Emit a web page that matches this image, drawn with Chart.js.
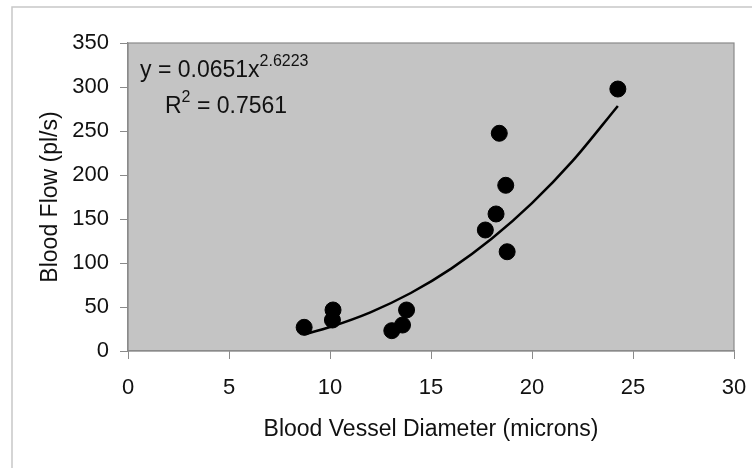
<!DOCTYPE html>
<html>
<head>
<meta charset="utf-8">
<script src="https://cdn.jsdelivr.net/npm/chart.js@4"></script>
<style>
  body { margin: 0; background: #fff; }
  canvas { display: block; }
</style>
</head>
<body>
<canvas id="flow-chart" width="752" height="468"></canvas>
<script>
// measured vessels
const diameters = [8.72, 10.12, 10.15, 13.06, 13.59, 13.79, 17.69, 18.22, 18.38, 18.70, 18.77, 24.25];
const flows = [26.9, 35.2, 46.6, 23.1, 29.5, 46.6, 137.5, 155.7, 247.4, 188.3, 112.8, 297.7];

// power trendline
const trendX = [8.72, 10, 12, 14, 16, 18, 20, 22, 24.25];
const trendY = [18.9, 27.3, 44.0, 65.9, 93.6, 127.5, 168.0, 215.7, 278.5];

const xTicks = [0, 5, 10, 15, 20, 25, 30];
const yTicks = [0, 50, 100, 150, 200, 250, 300, 350];

const FONT = "'Liberation Sans', Arial, sans-serif";

const plotBg = {
    id: 'plotBg',
    beforeDraw(chart) {
        const { ctx, chartArea: a } = chart;
        ctx.save();
        // outer frame
        ctx.strokeStyle = '#c8c8c8';
        ctx.lineWidth = 1.5;
        ctx.beginPath();
        ctx.moveTo(12, 468);
        ctx.lineTo(12, 7);
        ctx.lineTo(752, 7);
        ctx.stroke();
        ctx.fillStyle = '#c4c4c4';
        ctx.fillRect(a.left, a.top, a.right - a.left, a.bottom - a.top);
        ctx.strokeStyle = '#8a8a8a';
        ctx.lineWidth = 1.2;
        ctx.strokeRect(a.left, a.top, a.right - a.left, a.bottom - a.top);
        ctx.restore();
    },
    afterDatasetsDraw(chart) {
        const { ctx, chartArea: a } = chart;
        ctx.save();
        ctx.fillStyle = '#111';
        ctx.textBaseline = 'alphabetic';
        ctx.font = '23px ' + FONT;
        let x = a.left + 12;
        let y = a.top + 34;
        const main = 'y = 0.0651x';
        ctx.fillText(main, x, y);
        const w = ctx.measureText(main).width;
        ctx.font = '16px ' + FONT;
        ctx.fillText('2.6223', x + w, y - 11);
        ctx.font = '23px ' + FONT;
        x = a.left + 37;
        y = a.top + 70;
        ctx.fillText('R', x, y);
        const rw = ctx.measureText('R').width;
        ctx.font = '16px ' + FONT;
        ctx.fillText('2', x + rw, y - 11);
        const sw = ctx.measureText('2').width;
        ctx.font = '23px ' + FONT;
        ctx.fillText(' = 0.7561', x + rw + sw, y);
        ctx.restore();
    }
};

new Chart(document.getElementById('flow-chart'), {
    type: 'scatter',
    data: {
        datasets: [
            {
                label: 'Blood flow',
                data: diameters.map((d, i) => ({ x: d, y: flows[i] })),
                backgroundColor: '#000',
                borderColor: '#000',
                pointRadius: 8,
                pointHoverRadius: 8
            },
            {
                label: 'Power trend',
                type: 'line',
                data: trendX.map((d, i) => ({ x: d, y: trendY[i] })),
                borderColor: '#000',
                borderWidth: 2.5,
                pointRadius: 0,
                fill: false,
                cubicInterpolationMode: 'monotone'
            }
        ]
    },
    options: {
        responsive: false,
        animation: false,
        layout: { padding: { left: 37, top: 43, right: 18, bottom: 25 } },
        plugins: {
            legend: { display: false },
            tooltip: { enabled: false }
        },
        scales: {
            x: {
                type: 'linear',
                min: 0,
                max: 30,
                afterBuildTicks: s => { s.ticks = xTicks.map(v => ({ value: v })); },
                afterFit: s => { s.height = 92; s.paddingLeft = 0; s.paddingRight = 0; },
                grid: { drawOnChartArea: false, tickLength: 8, color: '#8a8a8a' },
                border: { color: '#8a8a8a', width: 1.2 },
                ticks: { color: '#111', padding: 16, font: { family: FONT, size: 22 } },
                title: {
                    display: true,
                    text: 'Blood Vessel Diameter (microns)',
                    color: '#111',
                    padding: 0,
                    font: { family: FONT, size: 23 }
                }
            },
            y: {
                min: 0,
                max: 350,
                afterBuildTicks: s => { s.ticks = yTicks.map(v => ({ value: v })); },
                afterFit: s => { s.width = 91; s.paddingTop = 0; s.paddingBottom = 0; },
                grid: { drawOnChartArea: false, tickLength: 8, color: '#8a8a8a' },
                border: { color: '#8a8a8a', width: 1.2 },
                ticks: { color: '#111', padding: 11, font: { family: FONT, size: 22 } },
                title: {
                    display: true,
                    text: 'Blood Flow (pl/s)',
                    color: '#111',
                    padding: 0,
                    font: { family: FONT, size: 23 }
                }
            }
        }
    },
    plugins: [plotBg]
});
</script>
</body>
</html>
